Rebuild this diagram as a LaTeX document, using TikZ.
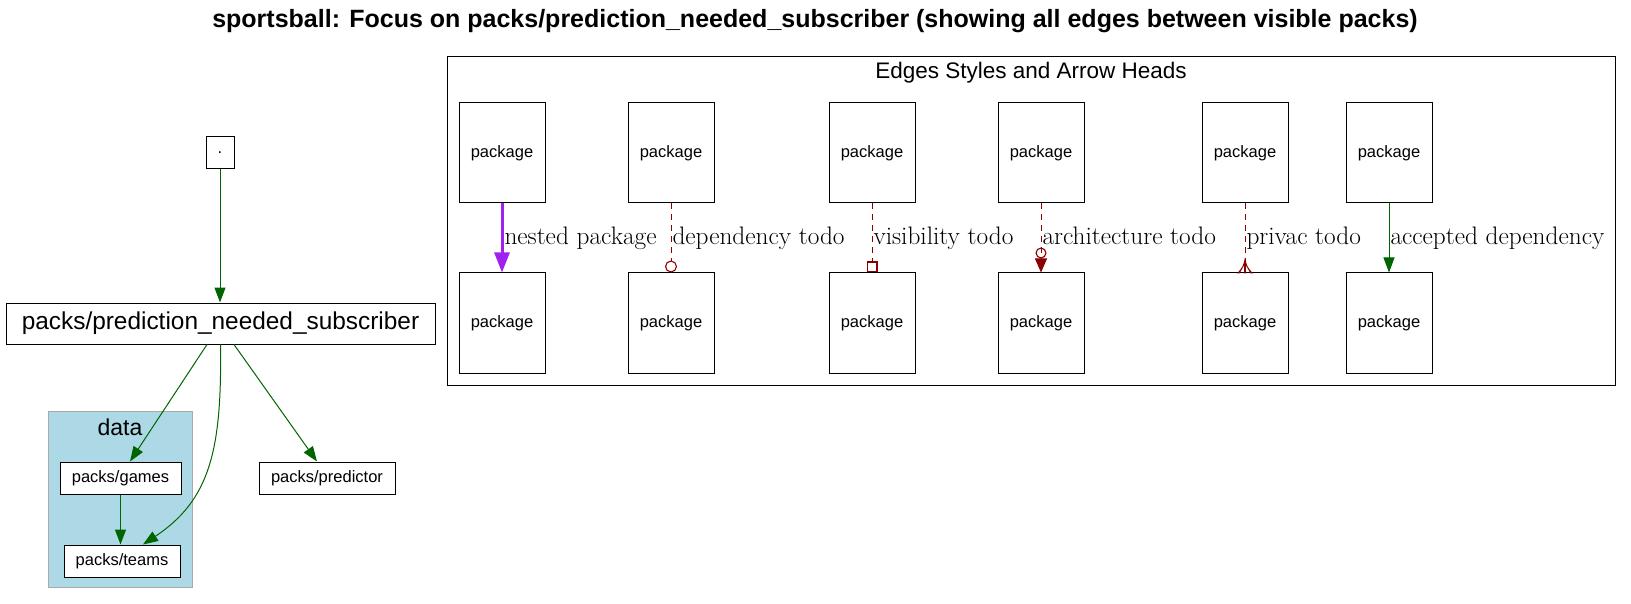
\documentclass[tikz,border=0pt]{standalone}
\usepackage{fontspec}
\newfontfamily\arial{Liberation Sans}
\usetikzlibrary{arrows.meta,calc}
\definecolor{dgreen}{HTML}{006400}
\definecolor{dred}{HTML}{8B0000}
\definecolor{gvpurple}{HTML}{A020F0}
\definecolor{lblue}{HTML}{ADD8E6}
\definecolor{clgray}{HTML}{A9A9A9}
\begin{document}
\begin{tikzpicture}[x=1pt,y=-1pt,
  box/.style={draw=black,line width=1pt,fill=white,inner sep=0pt,font=\arial\fontsize{16.5}{19}\selectfont},
  pkg/.style={box,minimum width=86pt,minimum height=100pt},
  small/.style={box,minimum height=32pt},
  dep/.style={draw=dgreen,line width=1pt,-{Triangle[length=15pt,width=11pt]}},
  todo/.style={draw=dred,line width=1pt,dash pattern=on 6pt off 5pt},
  lbl/.style={anchor=west,inner sep=0pt,xshift=1pt,text height=17.5pt,text depth=5.5pt,font=\fontsize{25.3}{29}\selectfont}]
\useasboundingbox (0,0) rectangle (1631,604);
% title
\node[font=\arial\bfseries\fontsize{25}{29}\selectfont] (title) at (815,21) {sportsball: Focus on packs/prediction\_needed\_subscriber (showing all edges between visible packs)};
% data cluster
\draw[fill=lblue,draw=clgray,line width=1pt] (48,411) rectangle (192,587);
\node[font=\arial\fontsize{23}{27}\selectfont] (datalbl) at (120,427) {data};
% main graph nodes
\node[box,minimum width=28pt,minimum height=32pt] (dot) at (220,153) {.};
\node[box,minimum width=429pt,minimum height=41pt,font=\arial\fontsize{24.4}{28}\selectfont] (main) at (220.5,323.5) {packs/prediction\_needed\_subscriber};
\node[small,minimum width=121pt] (games) at (120.5,478) {packs/games};
\node[small,minimum width=116pt] (teams) at (122,561) {packs/teams};
\node[small,minimum width=136pt] (predictor) at (327,478) {packs/predictor};
% main graph edges
\draw[dep] (dot.south) -- (dot.south |- main.north);
\draw[dep] ($(main.south)+(-13.5,0)$) -- ($(games.north)+(9.5,0)$);
\draw[dep] (main.south) .. controls (222,450) and (210,500) .. ($(teams.north)+(21,0)$);
\draw[dep] ($(main.south)+(13.5,0)$) -- ($(predictor.north)+(-10,0)$);
\draw[dep] (games.south) -- (games.south |- teams.north);
% legend
\draw[line width=1pt] (447,57) rectangle (1615,385);
\node[font=\arial\fontsize{22.5}{26}\selectfont] (legtitle) at (1031,73) {Edges Styles and Arrow Heads};
\foreach \i/\x in {1/502,2/671,3/872,4/1041,5/1245,6/1389}{
  \node[pkg] (A\i) at (\x,153) {package};
  \node[pkg] (B\i) at (\x,323) {package};
}
\draw[draw=gvpurple,line width=3pt,-{Triangle[length=20pt,width=15pt]}] (A1) -- node[lbl] {nested package} (B1);
\draw[todo,-{Circle[open,length=12pt,line width=1.1pt]}] (A2) -- node[lbl] {dependency todo} (B2);
\draw[todo,-{Square[open,length=11pt,line width=1.1pt]}] (A3) -- node[lbl] {visibility todo} (B3);
\draw[todo,-{Circle[open,length=11pt,sep=0pt,line width=1.1pt] Triangle[length=14pt,width=12pt]}] (A4) -- node[lbl] {architecture todo} (B4);
\draw[todo] (A5) -- node[lbl] {privac todo} (B5);
\fill[dred] ($(B5.north)+(0,-15)$) .. controls ($(B5.north)+(-2,-6)$) .. ($(B5.north)+(-8,1)$) -- ($(B5.north)+(-5.5,1)$) -- ($(B5.north)+(-1,-7)$) -- ($(B5.north)+(-0.8,1)$) -- ($(B5.north)+(0.8,1)$) -- ($(B5.north)+(1,-7)$) -- ($(B5.north)+(5.5,1)$) -- ($(B5.north)+(8,1)$) .. controls ($(B5.north)+(2,-6)$) .. cycle;
\draw[dep] (A6) -- node[lbl] {accepted dependency} (B6);
\end{tikzpicture}
\end{document}
